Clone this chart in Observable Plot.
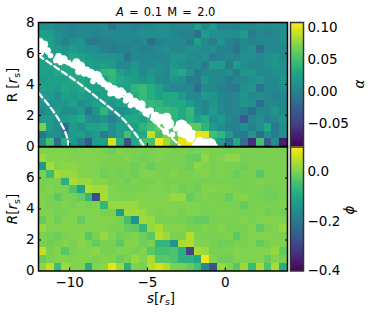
<!DOCTYPE html>
<html><head><meta charset="utf-8">
<script src="https://cdn.jsdelivr.net/npm/d3@7"></script>
<script src="https://cdn.jsdelivr.net/npm/@observablehq/plot@0.6"></script>
<style>
html,body{margin:0;padding:0;background:#fff}
#c{position:relative;width:374px;height:314px;overflow:hidden;font-family:"DejaVu Sans",sans-serif;color:#000}
#c svg{position:absolute;background:transparent}
.t{position:absolute;white-space:nowrap;line-height:1}
.r{transform:translate(-50%,-50%) rotate(-90deg)}
i{font-style:oblique}
sub{font-size:70%;vertical-align:-0.25em;line-height:0}
</style></head><body><div id="c"></div>
<script>
// alpha x 100, rows from R=8 down to R=0, columns from s=-12 to s=4
const alphaRows = [
[1,1,0.5,0.5,0,0.5,0.5,0.5,1,-1,0.5,0.5,0,0.5,0.5,1,1,0.5,0.5,0.5,2.5,0.5,2,0,0.5,0,0.5,0.5,1,0.5,1,1],
[2.5,2,1,0.5,0,0.5,0.5,0,0.5,0.5,0.5,0.5,0.5,1,1,1,1,0.5,0,0,-1.5,2,1,1,1,1,2,-0.5,0.5,0,0.5,1],
[3,2.5,1,0,1,1.5,-0.5,-0.5,0,0,0.5,0.5,0,0.5,-1.5,0,0.5,0.5,0.5,-0.5,2.5,0.5,-0.5,1.5,0,-0.5,0.5,0,0.5,0.5,0.5,1],
[3,2.5,2,1.5,2,1.5,1,1,0,-0.5,0,0,0.5,0,0,0.5,1,0.5,0.5,1,1,0.5,1,0,0,-1,0.5,1,-1.5,0.5,0.5,0.5],
[2.5,2.5,2,2,3,2.5,2,1.5,1.5,1.5,1,-1,0.5,0.5,0.5,0.5,0.5,1.5,1.5,1,0.5,1,-0.5,0,0.5,0,1,1,0.5,1,1.5,0.5],
[2.5,2.5,2.5,3,3,4,2.5,2,2.5,2,0.5,0.5,1.5,0.5,0.5,1,0.5,1.5,1,0.5,1,-0.5,2,2,-0.5,2,1,0.5,0.5,1,1.5,1],
[2.5,2.5,3,3,3,4,3,2.5,4,4.5,2.5,1.5,2,0.5,1.5,1,0.5,2.5,3,1.5,-0.5,0.5,0.5,0.5,1,-0.5,1.5,1.5,0.5,0.5,1,1],
[2,2.5,2.5,2.5,3,3,2.5,2.5,2.5,4,3,2.5,2,1.5,2,0.5,0.5,1.5,1,-0.5,-0.5,1.5,0.5,0.5,-0.5,0.5,0.5,1,1.5,0.5,0.5,1.5],
[2.5,2.5,2,3,2.5,3,2.5,2.5,2.5,3,2.5,2.5,4,4.5,3.5,2.5,1,0.5,0.5,0.5,-1.5,0.5,0.5,0,-0.5,-0.5,1,1.5,-1,0.5,0.5,1],
[2,2,1,2.5,2,2.5,2,2,2.5,2.5,3,4,3.5,4.5,3.5,2.5,3,3,2,0.5,0.5,2,1.5,0.5,0,0.5,1.5,0.5,1,0.5,0,0.5],
[1.5,1,1.5,1.5,2.5,1,1.5,2.5,2.5,1.5,2.5,3,2.5,4,4.5,4,3,3,3,2,1,0.5,1.5,0.5,0,0.5,1.5,1,-1.5,0.5,0.5,0.5],
[0.5,1.5,2,1,1,2,-1,1.5,4,1.5,1,1.5,2.5,4,3,4.5,4.5,4,3,4.5,1.5,0.5,2,0.5,0,0.5,0,-1.5,0.5,0.5,1.5,0.5],
[2,2,1,2,2.5,3,1,0.5,1.5,0,1.5,3,3,2.5,4,5,5,4,3,4,2.5,3.5,1,2,0.5,0,-3,0.5,1,0,0.5,1.5],
[7,2,1,-1.5,2,1,2.5,2.5,3,1,2.5,2,2.5,4,5,6,6.5,5,5,6,6,4,2,1,0,0,1,0,1,3,-0.5,1],
[-1,1,1,0,2,2.5,1,2,-0.5,1,2,5,3,3,9,5,7,6,9,9,10,10,5,4,2,-0.5,-0.5,1.5,-1.5,1,-0.5,1],
[1,5,-1.5,3.5,2,0,-3,2,2.5,9.5,3.5,-3.5,3,5,5,10.5,8,6,10,10.5,7,5,3,2,-1.5,3,-1.5,-6,5,-3,1,-7]
];
// phi x 100, same layout
const phiRows = [
[0.3,0.3,0.8,0.3,0,0.3,0.3,0.3,0,-1,0.3,0,0,0,0,0.3,0.3,0,0,-0.5,0,0.3,0,0,-0.5,0,0,0,0,0,0,0],
[2.5,0.8,0.8,0.8,0.3,0.3,0.3,0.3,0.3,0,0,0.3,0,-1,0,0.3,0,0,0,-1.5,-2,1.5,0,0.3,1.5,1.5,-0.5,0,0,0,0,0],
[-13,3,0.8,1.3,1.3,0.8,0.3,0.3,0,0,0,0,-1,0,-1.5,0,0,0,-0.5,-1,1.3,0.3,0,0.3,0,-0.5,-1,0,0,0,0,0],
[-0.5,-6,3,2,2,0.8,0.3,0.3,-1,0,-1,0,-1,0.3,0.3,0,0,0.8,0,0,0.3,0.8,0,0.3,0,-1.5,0,0,-3,0,0,0],
[0,0,0,-8,3.5,2,2,0.8,0.8,0,0,-1,0.3,0,0,0.3,0,0,0,0,-0.5,0,0,0,-0.5,-0.5,-0.5,0,0.3,0,0,0],
[0,0.3,0,-0.5,-4,-11,4,3,3,0.3,0,0,0,0,0.3,0.3,0,0.3,-1,0,-1,0.8,0.8,0.3,0.3,0,-0.5,0,0,-1,-0.5,0],
[0.3,0,-2.5,0,-0.5,-2,-7,-28,3.5,0.3,0.3,0.3,0.3,0.8,0.3,0.3,0.8,2,2,-2,0,0.3,0,0,-2,0.3,0.8,0,-0.5,-1,-1,0],
[0.3,0,0,0.3,0,0.3,0,0.3,-7,2,2,2,2,0.8,0.8,0.8,0.3,0.3,0.3,0.3,0.3,0,0.3,0,0,-0.5,-2,0,0,0,0,0.3],
[0.3,0.3,0,0,0.8,0.8,0.3,0.8,0,0,-12,3,3,2,0.3,0,0.8,0.3,0,0.3,0.3,0,0,0.3,0.3,0,-0.5,0,0.3,-1,0,-1],
[-2,0.8,-1,0.3,0.3,-2,0.3,0.3,0.8,0.8,0,-5,-14,3,2,0,0,0,-0.5,-1,-2,-2,0,0,0,0,0.3,0,0.3,0.8,0.3,0.3],
[2,0.3,0.3,0.8,0.3,0.8,0.3,0.3,0.3,0,0,-2,-2.5,-7,2,3.5,0.8,0.8,0.8,0,-0.5,0.3,0,0.8,0,0,-0.5,0.3,-2.5,0,0.3,2],
[0,-0.5,-1.5,0,0.3,0.8,-3,0,2,0.3,-1,0,0.3,-1,-3,4.5,2.5,0,0,4.5,0.3,0,0,0,0.3,-3,0,0.3,0.3,0.8,0.3,0],
[0,-1,0,0.8,0,1.3,0.3,-2,0,0,-2.5,0.8,0.8,-1,0,-7,-7,-14,3.5,4,0.3,0.3,0,-1,-1,0,0,0.3,-2,0,0.8,0.3],
[5.5,0,0.8,-3,0,0.3,0.3,1.3,0,0,0.3,0.3,0,0.3,-3,-5,-5,-4,-8,-30,3.5,2.5,0,0,0,0.8,0.3,0.3,0.8,0.3,2,-2],
[-2,0,0.3,0.8,0.3,0.8,0.3,0,0.8,0.3,-1.5,0,2,0.3,3.5,-3,-3,-4,-8,-8,-10,9,0.3,-1,-1,0.3,0.3,0.3,0.3,-1.5,0.3,-0.5],
[1.3,5.5,-6,2.5,0.3,0.3,-9,0.3,1.3,8,2.5,-8,0.3,-0.5,4.5,6.5,4.5,0,0,-2,-5,-16,-27,2.5,0.3,-3,2.5,-6,3.5,-4,3.5,-9]
];
const ticksR = [0,2,4,6,8], ticksS = [-10,-5,0];
// white contour curves (s, R)
const curve1S=[-12,-11.25,-10.6,-10.2,-10.05], curve1R=[3.45,2.55,1.57,0.71,0];
const curve2S=[-12,-10.9,-9.5,-8,-6.7,-5.85,-5.2], curve2R=[5.87,5.12,4.15,2.97,1.9,0.92,0];
const curve3S=[-12,-9.9,-8,-6.4,-5.1,-3.95,-2.85], curve3R=[6.3,5.2,4.15,3.1,2.05,1.03,0];
// white scattered blobs (s, R, radius)
const blobS=[-11.94,-11.74,-11.87,-11.42,-11.23,-10.71,-10.39,-10.59,-10.07,-9.56,-9.3,-9.04,-9.43,-8.66,-8.27,-8.02,-7.5,-7.18,-6.86,-6.54,-6.22,-5.83,-6.09,-5.38,-5.06,-4.8,-4.48,-4.16,-3.77,-3.65,-3.84,-3.39,-2.81,-2.49,-2.87,-2.23,-1.65,-1.27,-0.95,-0.69,-11.6,-10.9,-9.8,-8.9,-8.5,-7.8,-7.4,-6.7,-6.4,-5.6,-5.3,-4.3,-4.0,-3.2,-2.6,-2.1,-1.9];
const blobR=[6.71,6.45,6.06,6.19,5.87,5.81,5.61,5.42,5.42,5.42,5.16,4.77,4.84,4.71,4.52,4.26,3.87,3.61,3.35,3.48,3.16,2.84,2.65,2.71,2.19,2.32,1.94,1.81,1.87,1.48,0.97,0.77,1.35,1.1,0.84,0.58,0.32,0.13,0.19,0,6.6,5.55,5.25,4.95,4.2,4.05,3.4,3.6,2.95,2.55,2.45,1.6,1.6,1.15,0.75,0.9,0.1];
const blobSize=[4.8,4.8,3.4,3.4,2.8,3.4,4.2,2.8,2.8,4.2,4.8,4.2,3.4,4.8,5.6,4.2,4.2,5.6,4.2,2.8,4.8,4.8,2.8,4.2,4.2,3.4,4.8,4.8,4.8,5.6,3.4,2.8,6.2,5.6,3.4,4.8,4.8,6.2,5.6,3.4,3.4,2.8,2.8,3.4,2.8,3.4,2.8,3.4,2.8,2.8,2.8,3.4,2.8,2.8,3.4,2.8,3.4];

const cellsOf = rows => rows.flatMap((row,i)=>row.map((v,j)=>({s:-12+j*0.5,R:8-(i+1)*0.5,v:v/100})));
const curve=(S,R)=>S.map((s,i)=>({s,R:R[i]}));
const style={fontFamily:"DejaVu Sans",fontSize:"13.5px",background:"transparent",overflow:"visible"};
const c=document.getElementById("c");
function panel(rows,domain,top,height,mt,mb,yLabels,xLabels,extra){
  const p=Plot.plot({width:374,height,marginLeft:38,marginRight:87,marginTop:mt,marginBottom:mb,style,
    x:{domain:[-12,4]},y:{domain:[0,8]},
    r:{type:"identity"},
    color:{type:"linear",scheme:"viridis",domain},
    marks:[
      Plot.rect(cellsOf(rows),{x1:"s",x2:d=>d.s+0.5,y1:"R",y2:d=>d.R+0.5,fill:"v",shapeRendering:"crispEdges"}),
      ...extra,
      Plot.axisY({ticks:yLabels,tickSize:0,tickPadding:4,label:null}),
      Plot.axisX({ticks:xLabels,tickSize:0,tickPadding:6,label:null,text:xLabels.length&&mb>20?undefined:null,tickFormat:d=>String(d).replace("-","\u2212")}),
      Plot.axisY({ticks:[2,4,6],tickSize:-3,text:null,label:null,strokeWidth:1}),
      Plot.axisY({ticks:[2,4,6],anchor:"right",tickSize:-3,text:null,label:null,strokeWidth:1}),
      Plot.axisX({ticks:ticksS,tickSize:-3,text:null,label:null,strokeWidth:1}),
      Plot.frame({stroke:"black",strokeWidth:1.5})
    ]});
  p.style.top=top+"px";p.style.left="0";
  c.appendChild(p);
}
const whiteLine=(S,R)=>Plot.line(curve(S,R),{x:"s",y:"R",stroke:"white",strokeWidth:2.3,strokeDasharray:"6,3.5",curve:"catmull-rom"});
panel(alphaRows,[-0.086,0.108],0,155,22,9,ticksR,ticksS,[
  whiteLine(curve1S,curve1R),whiteLine(curve2S,curve2R),whiteLine(curve3S,curve3R),
  Plot.dot(blobS.map((s,i)=>({s,R:blobR[i],z:blobSize[i]})),{x:"s",y:"R",r:"z",fill:"white",stroke:"none",clip:true})
]);
panel(phiRows,[-0.4,0.1],140,174,6.5,43.5,[0,2,4,6],ticksS,[]);

function bar(domain,ticks,fmt,top,height,mt,mb){
  const step=(domain[1]-domain[0])/128;
  const levels=d3.range(128).map(i=>domain[0]+i*step);
  const p=Plot.plot({width:84,height,marginLeft:0,marginRight:71,marginTop:mt,marginBottom:mb,style,
    x:{domain:[0,1],axis:null},y:{domain},color:{type:"linear",scheme:"viridis",domain},
    marks:[
      Plot.rect(levels,{x1:0,x2:1,y1:d=>d,y2:d=>d+step*1.02,fill:d=>d+step/2,shapeRendering:"crispEdges"}),
      Plot.axisY({anchor:"right",ticks,tickFormat:fmt,tickSize:0,tickPadding:4,label:null}),
      Plot.frame({stroke:"#333",strokeWidth:1.5})
    ]});
  p.style.top=top+"px";p.style.left="290px";
  c.appendChild(p);
}
const minus=s=>s.replace("-","\u2212");
bar([-0.086,0.108],[-0.05,0,0.05,0.1],d=>minus(d.toFixed(2)),0,155,22,9);
bar([-0.4,0.1],[-0.4,-0.2,0],d=>minus(d.toFixed(1)),140,174,6.5,43.5);

function text(html,x,y,size,cls){
  const d=document.createElement("div");d.className="t "+(cls||"");d.innerHTML=html;
  d.style.left=x+"px";d.style.top=y+"px";d.style.fontSize=size+"px";c.appendChild(d);
  return d;
}
text("<i>A</i> = 0.1 M = 2.0",116,7,11.5).style.wordSpacing="1.5px";
text("R [<i>r</i><sub>s</sub>]",13,85,13.5,"r");
text("<i>R</i>[<i>r</i><sub>s</sub>]",13,209,13.5,"r");
text("<i>s</i>[<i>r</i><sub>s</sub>]",147,292,13.5);
text("<i>\u03b1</i>",360,84,13.5,"r");
text("<i>\u03d5</i>",350,210,13.5,"r");
</script></body></html>
